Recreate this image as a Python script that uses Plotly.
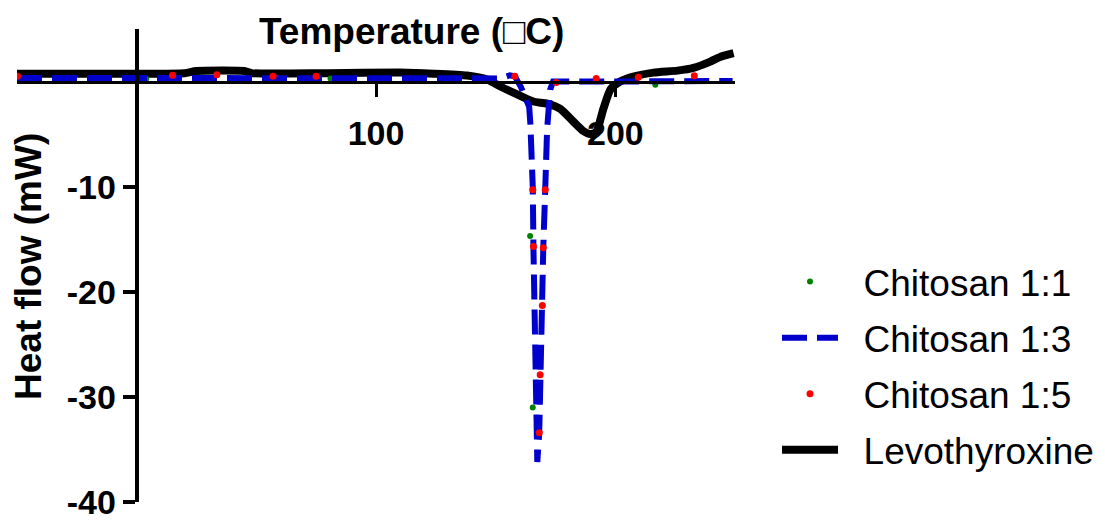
import plotly.graph_objects as go

# ---- data ----
levo_x = [-50, -20, 0, 20, 25, 45, 48, 80, 110, 124, 138, 146.4, 152, 159, 165.7, 171.5,
          177, 182.4, 186.6, 189.5, 192, 195, 198, 202, 207.5, 216, 226, 232.6, 239.7, 244, 249.4]
levo_y = [0.75, 0.75, 0.75, 0.8, 1.0, 1.0, 0.8, 0.8, 0.85, 0.75, 0.57, 0.19, -0.47, -1.23, -1.9, -2.1,
          -2.6, -3.8, -4.7, -5.0, -4.8, -2.6, -0.75, 0.0, 0.47, 0.85, 1.04, 1.3, 1.9, 2.36, 2.7]

c13_x = [-50, 0, 50, 100, 140, 152, 156, 158, 160.5, 164, 164.5, 165.5, 165.8, 167, 167.4,
         168.2, 168.6, 169.5, 169.9, 170.7, 171.5, 172.8, 174, 190, 220, 249]
c13_y = [0.35, 0.35, 0.35, 0.35, 0.3, 0.3, 0.6, 0.5, -0.5, -2.4, -4, -10, -16, -31, -36.2,
         -33.4, -27.9, -21.3, -15.8, -10.3, -4.5, -0.75, 0.0, 0.0, 0.05, 0.05]

c15_x = [-49.8, 15, 33.5, 57, 75, 158, 165.5, 165.8, 168.2, 168.6, 169.5, 169.9, 170.7,
         175.3, 192, 209.6, 233]
c15_y = [0.5, 0.6, 0.65, 0.5, 0.5, 0.5, -10.3, -15.7, -33.4, -27.9, -21.3, -15.8, -10.3,
         -0.1, 0.3, 0.4, 0.55]

c11_x = [-50, 4, 81, 164.4, 165.5, 168.2, 216.7]
c11_y = [0.3, 0.25, 0.3, -14.7, -31, -26.9, -0.3]

series_names = ["Chitosan 1:1", "Chitosan 1:3", "Chitosan 1:5", "Levothyroxine"]
x_ticks = [100, 200]
y_ticks = [-40, -30, -20, -10]
x_range = [-50, 250]
y_range = [-40, 5]

FONT = "Liberation Sans, Arial, sans-serif"
PAD = "\u00a0\u00a0"  # visual gap between legend sample and label

fig = go.Figure()
fig.add_trace(go.Scatter(x=levo_x, y=levo_y, mode="lines", name=PAD + series_names[3],
                         line=dict(color="black", width=8, shape="spline", smoothing=0.6),
                         legendrank=4, legendgroup="d"))
fig.add_trace(go.Scatter(x=c11_x, y=c11_y, mode="markers", name=PAD + series_names[0],
                         marker=dict(color="#008000", size=6),
                         legendrank=1, legendgroup="a"))
fig.add_trace(go.Scatter(x=c13_x, y=c13_y, mode="lines", name=PAD + series_names[1],
                         line=dict(color="#0000CC", width=6, dash="25px,10px"),
                         legendrank=2, legendgroup="b"))
fig.add_trace(go.Scatter(x=c15_x, y=c15_y, mode="markers", name=PAD + series_names[2],
                         marker=dict(color="#FF0000", size=7),
                         legendrank=3, legendgroup="c"))

L, R, T, B = 17, 370, 29, 19
W, H = 1105, 521
pw = W - L - R
ph = H - T - B

def px_x(p):
    return (p - L) / pw

def px_y(p):
    return (H - B - p) / ph

fig.update_layout(
    width=W, height=H,
    margin=dict(l=L, r=R, t=T, b=B, autoexpand=False),
    paper_bgcolor="white", plot_bgcolor="white",
    font=dict(family=FONT, color="black"),
    showlegend=True,
    legend=dict(xref="container", yref="container",
                x=777 / W, y=1 - 251 / H, xanchor="left", yanchor="top",
                font=dict(size=37, family=FONT, color="black"),
                traceorder="grouped", tracegroupgap=5, itemwidth=56,
                bgcolor="rgba(0,0,0,0)"),
    xaxis=dict(range=x_range, tickvals=x_ticks, ticktext=[str(v) for v in x_ticks],
               showgrid=False, zeroline=False, showline=True, linecolor="black", linewidth=3,
               ticks="outside", ticklen=13, tickwidth=3, tickcolor="black",
               tickfont=dict(size=34, family=FONT, weight="bold", color="black"),
               ticklabelstandoff=8, automargin=False,
               anchor="free", position=(0 - y_range[0]) / (y_range[1] - y_range[0])),
    yaxis=dict(range=y_range, tickvals=y_ticks, ticktext=[str(v) for v in y_ticks],
               showgrid=False, zeroline=False, showline=True, linecolor="black", linewidth=4,
               ticks="outside", ticklen=12, tickwidth=4, tickcolor="black",
               tickfont=dict(size=34, family=FONT, weight="bold", color="black"),
               ticklabeloverflow="allow", automargin=False,
               anchor="free", position=(0 - x_range[0]) / (x_range[1] - x_range[0])),
    annotations=[
        dict(text="Temperature (\u25a1C)", x=px_x(411), y=px_y(32), xref="paper", yref="paper",
             xanchor="center", yanchor="middle", showarrow=False,
             font=dict(size=37, family=FONT, weight="bold", color="black")),
        dict(text="Heat flow (mW)", x=px_x(28), y=px_y(267), xref="paper", yref="paper",
             xanchor="center", yanchor="middle", showarrow=False, textangle=-90,
             font=dict(size=37, family=FONT, weight="bold", color="black")),
    ],
)

fig.write_html("out.html", config={"displayModeBar": False},
               post_script="document.body.style.margin='0';")
